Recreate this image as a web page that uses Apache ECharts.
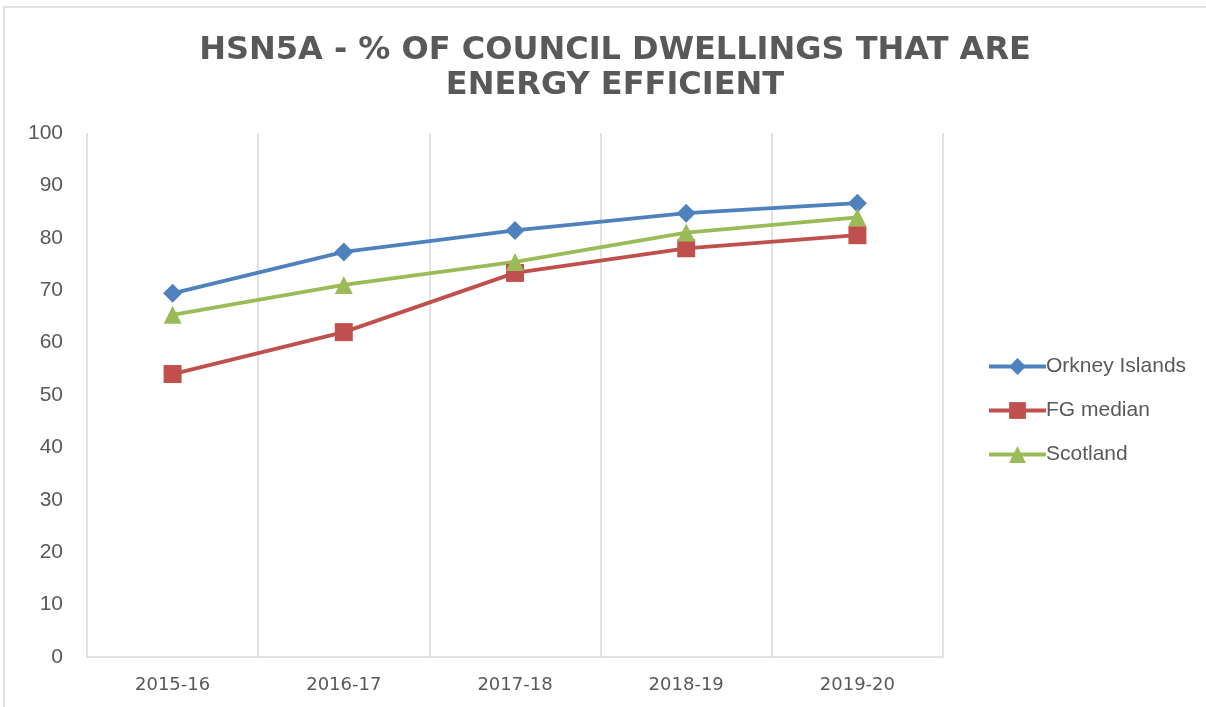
<!DOCTYPE html>
<html>
<head>
<meta charset="utf-8">
<script src="https://cdn.jsdelivr.net/npm/echarts@6/dist/echarts.min.js"></script>
<style>
html, body { margin: 0; padding: 0; background: #fff; }
#container { width: 1206px; height: 707px; }
</style>
</head>
<body>
<div id="container"></div>
<script>
var years = ['2015-16', '2016-17', '2017-18', '2018-19', '2019-20'];
var orkney = [69.4, 77.3, 81.4, 84.7, 86.6];
var fgMedian = [54.0, 62.0, 73.3, 78.0, 80.5];
var scotland = [65.3, 71.0, 75.4, 81.0, 83.9];

var myChart = echarts.init(document.getElementById('container'));

function lineSeries(name, data, color, symbol, size) {
	return {
		name: name,
		type: 'line',
		data: data,
		symbol: symbol,
		symbolSize: size,
		lineStyle: { color: color, width: 3.8 },
		itemStyle: { color: color },
		emphasis: { disabled: true }
	};
}

var option = {
	animation: false,
	backgroundColor: '#fff',
	graphic: [{
		type: 'rect',
		shape: { x: 4, y: 7, width: 1220, height: 720 },
		style: { fill: null, stroke: '#D9D9D9', lineWidth: 1.5 }
	}],
	title: {
		text: 'HSN5A - % OF COUNCIL DWELLINGS THAT ARE\nENERGY EFFICIENT',
		left: 610,
		top: 28,
		textAlign: 'center',
		textStyle: {
			fontFamily: 'DejaVu Sans',
			fontWeight: 'bold',
			fontSize: 32,
			lineHeight: 35,
			color: '#595959'
		}
	},
	legend: {
		orient: 'vertical',
		left: 982,
		top: 351,
		itemWidth: 57,
		itemHeight: 21,
		itemGap: 23,
		lineStyle: { width: 4 },
		textStyle: { fontFamily: 'Liberation Sans', fontSize: 21, color: '#595959', padding: [0, 0, 0, -5] },
		data: ['Orkney Islands', 'FG median', 'Scotland']
	},
	grid: { left: 87, right: 263, top: 133, bottom: 50 },
	xAxis: {
		type: 'category',
		data: years,
		boundaryGap: true,
		axisLine: { lineStyle: { color: '#D9D9D9', width: 1.5 } },
		axisTick: { show: false },
		splitLine: { show: true, lineStyle: { color: '#D9D9D9', width: 1.5 } },
		axisLabel: {
			margin: 19,
			fontFamily: 'DejaVu Sans',
			fontSize: 18,
			color: '#595959'
		}
	},
	yAxis: {
		type: 'value',
		min: 0,
		max: 100,
		interval: 10,
		axisLine: { show: false },
		axisTick: { show: false },
		splitLine: { show: false },
		axisLabel: {
			margin: 24,
			fontFamily: 'Liberation Sans',
			fontSize: 21,
			color: '#595959'
		}
	},
	series: [
		lineSeries('Orkney Islands', orkney, '#4F81BD', 'diamond', 19),
		lineSeries('FG median', fgMedian, '#C0504D', 'rect', 18),
		lineSeries('Scotland', scotland, '#9BBB59', 'triangle', 18)
	]
};
myChart.setOption(option);
</script>
</body>
</html>
